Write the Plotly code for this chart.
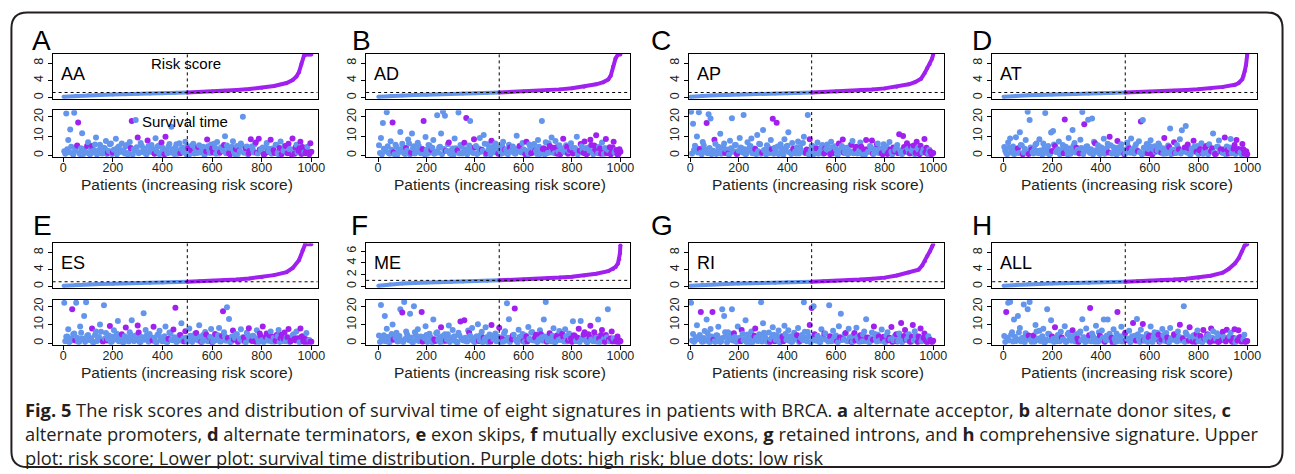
import plotly.graph_objects as go

FIG_W, FIG_H = 1295, 474
BLUE = "#6495ED"
PURPLE = "#A020F0"
FONT = "Liberation Sans, Arial, sans-serif"
CAP_FONT = "Open Sans, Noto Sans, sans-serif"

# ---------------- data ----------------
panel_letters = ["A", "B", "C", "D", "E", "F", "G", "H"]
panel_names = ["AA", "AD", "AP", "AT", "ES", "ME", "RI", "ALL"]
cutoff_rank = 500
x_tick_vals = [0, 200, 400, 600, 800, 1000]
risk_ticks_default = [0, 4, 8]
risk_ticks_ME = [0, 2, 4, 6]
surv_ticks = [0, 10, 20]
surv_rank = list(range(4, 1000, 8))    # patients of the first sample
surv2_rank = list(range(8, 1001, 8))   # patients of the second sample

risk_rank_AA = [1, 50, 100, 150, 200, 250, 300, 350, 400, 450, 500, 550, 600, 650, 700, 750, 800, 850, 900, 925, 940, 950, 960, 970, 980, 990, 1000]
risk_AA = [0.2, 0.42, 0.55, 0.64, 0.72, 0.8, 0.88, 0.96, 1.03, 1.11, 1.2, 1.3, 1.45, 1.6, 1.8, 2.0, 2.3, 2.7, 3.4, 4.1, 4.9, 5.9, 7.8, 9.7, 10.0, 10.0, 10.0]
risk_rank_AD = [1, 50, 100, 150, 200, 250, 300, 350, 400, 450, 500, 550, 600, 650, 700, 750, 800, 850, 900, 930, 950, 960, 970, 980, 990, 1000]
risk_AD = [0.2, 0.4, 0.52, 0.62, 0.7, 0.78, 0.86, 0.94, 1.02, 1.1, 1.2, 1.3, 1.42, 1.55, 1.72, 1.92, 2.2, 2.55, 3.1, 3.6, 4.2, 5.1, 7.2, 9.1, 10.0, 10.0]
risk_rank_AP = [1, 50, 100, 150, 200, 250, 300, 350, 400, 450, 500, 550, 600, 650, 700, 750, 800, 850, 900, 925, 950, 965, 975, 985, 995, 1000]
risk_AP = [0.2, 0.42, 0.54, 0.63, 0.71, 0.79, 0.87, 0.95, 1.03, 1.11, 1.2, 1.3, 1.42, 1.56, 1.72, 1.9, 2.15, 2.55, 3.1, 3.6, 4.4, 5.7, 6.8, 7.7, 9.0, 10.0]
risk_rank_AT = [1, 50, 100, 150, 200, 250, 300, 350, 400, 450, 500, 550, 600, 650, 700, 750, 800, 850, 900, 950, 965, 980, 985, 990, 995, 1000]
risk_AT = [0.2, 0.42, 0.54, 0.63, 0.71, 0.79, 0.87, 0.95, 1.03, 1.11, 1.2, 1.28, 1.38, 1.5, 1.62, 1.76, 1.93, 2.15, 2.5, 3.0, 3.4, 4.3, 5.0, 6.2, 7.6, 10.0]
risk_rank_ES = [1, 50, 100, 150, 200, 250, 300, 350, 400, 450, 500, 550, 600, 650, 700, 750, 800, 850, 900, 925, 950, 965, 975, 1000]
risk_ES = [0.2, 0.4, 0.52, 0.6, 0.68, 0.76, 0.83, 0.9, 0.97, 1.04, 1.12, 1.22, 1.35, 1.5, 1.68, 1.9, 2.2, 2.7, 3.4, 4.4, 6.2, 8.6, 10.0, 10.0]
risk_rank_ME = [1, 50, 100, 150, 200, 250, 300, 350, 400, 450, 500, 550, 600, 650, 700, 750, 800, 850, 900, 950, 970, 980, 990, 995, 998, 1000]
risk_ME = [0.1, 0.35, 0.48, 0.57, 0.65, 0.72, 0.79, 0.85, 0.91, 0.97, 1.03, 1.1, 1.18, 1.27, 1.37, 1.5, 1.65, 1.85, 2.15, 2.6, 2.95, 3.3, 3.9, 4.6, 5.6, 7.0]
risk_rank_RI = [1, 50, 100, 150, 200, 250, 300, 350, 400, 450, 500, 550, 600, 650, 700, 750, 800, 850, 900, 940, 955, 966, 975, 986, 995, 1000]
risk_RI = [0.2, 0.4, 0.52, 0.61, 0.69, 0.77, 0.84, 0.91, 0.98, 1.05, 1.13, 1.22, 1.34, 1.48, 1.65, 1.85, 2.1, 2.6, 3.3, 4.0, 5.0, 6.0, 7.2, 8.3, 9.5, 10.0]
risk_rank_ALL = [1, 50, 100, 150, 200, 250, 300, 350, 400, 450, 500, 550, 600, 650, 700, 750, 800, 850, 900, 925, 950, 965, 978, 990, 1000]
risk_ALL = [0.2, 0.4, 0.52, 0.61, 0.69, 0.77, 0.84, 0.91, 0.98, 1.05, 1.13, 1.22, 1.34, 1.48, 1.64, 1.84, 2.1, 2.55, 3.3, 4.2, 5.5, 6.7, 8.3, 9.8, 10.0]

# survival time (years); dead = 1 -> purple dot
surv_AA = [2.1, 21.8, 7.9, 13.4, 1.0, 22.2, 4.3, 17.1, 0.6, 11.5,
           3.2, 1.5, 6.8, 0.4, 4.9, 2.6, 9.2, 1.8, 5.5, 0.9,
           3.9, 7.4, 1.3, 5.8, 0.7, 2.9, 8.6, 4.1, 1.9, 6.2,
           2.4, 4.7, 0.5, 6.9, 17.8, 3.1, 18.3, 9.3, 1.6, 5.0,
           3.6, 0.9, 7.7, 2.2, 5.3, 1.4, 8.9, 4.4, 0.6, 6.6,
           3.0, 9.7, 1.1, 5.9, 14.8, 2.7, 4.0, 0.8, 6.3, 3.3,
           1.7, 7.1, 4.8, 0.5, 2.6, 6.0, 3.7, 1.2, 5.2, 2.0,
           4.5, 0.7, 8.2, 2.8, 5.6, 1.5, 3.9, 6.9, 0.9, 4.2,
           2.3, 9.9, 5.1, 1.0, 3.6, 7.3, 0.6, 4.9, 2.5, 6.1,
           20.1, 1.8, 4.6, 0.9, 8.4, 3.2, 5.7, 1.3, 8.6, 2.9,
           4.1, 0.7, 6.4, 2.1, 8.1, 3.5, 1.2, 5.3, 0.5, 7.2,
           2.7, 4.8, 1.4, 6.0, 3.1, 8.7, 0.8, 5.5, 2.3, 7.0,
           4.3, 1.6, 3.0, 0.9, 6.3]
dead_AA = "0000000100 0000100000 0010000000 0000100100 0010000001 0100000000 0000100000 0010010000 0001000010 0001100110 0100101000 1001011011 10111"
surv2_AA = [0.8, 3.1, 1.6, 4.4, 0.3, 2.5, 5.1, 1.2, 3.7, 0.6,
            2.0, 4.8, 0.9, 3.3, 1.5, 5.6, 0.4, 2.8, 4.0, 1.1,
            3.5, 0.7, 2.2, 6.1, 1.4, 3.0, 0.5, 4.6, 1.9, 2.6,
            0.9, 5.3, 1.3, 3.8, 0.4, 2.4, 4.2, 1.0, 6.4, 1.7,
            2.9, 0.6, 4.9, 1.8, 3.4, 0.8, 2.1, 5.0, 1.2, 3.9,
            0.5, 2.7, 4.5, 1.5, 3.2, 0.7, 5.7, 2.3, 1.0, 4.1,
            2.5, 0.6, 3.6, 1.9, 5.2, 0.9, 2.8, 4.3, 1.4, 3.1,
            0.4, 2.0, 4.7, 1.2, 3.5, 6.0, 0.8, 2.6, 1.6, 3.9,
            5.4, 1.1, 2.9, 0.5, 4.4, 1.8, 3.3, 0.7, 2.2, 5.0,
            1.3, 3.7, 0.6, 2.4, 4.6, 1.5, 6.7, 0.9, 3.0, 2.1,
            0.4, 4.2, 1.7, 3.4, 0.8, 2.6, 5.5, 1.2, 3.8, 0.6,
            2.3, 4.9, 1.0, 3.2, 0.5, 2.0, 4.0, 1.4, 3.6, 0.7,
            2.8, 1.1, 4.5, 0.6, 1.9]
dead2_AA = "0000001000 0100000000 0000100000 0001000000 0000010000 1000000010 0010000100 0100100010 1001001000 0101001010 1010010011 0110101011 11011"

surv_AD = [5.2, 9.0, 16.8, 3.1, 22.4, 1.2, 7.3, 17.0, 0.6, 4.4,
           2.5, 12.1, 6.0, 1.0, 3.8, 8.2, 0.5, 11.3, 4.7, 2.0,
           6.5, 1.6, 3.4, 17.9, 9.5, 0.8, 5.1, 2.7, 7.9, 1.3,
           20.8, 4.0, 11.4, 22.6, 20.6, 2.2, 6.7, 0.7, 3.5, 8.8,
           1.9, 22.3, 5.4, 0.9, 6.5, 19.4, 2.6, 17.8, 3.9, 8.4,
           4.8, 1.1, 9.0, 2.9, 10.6, 0.6, 5.7, 3.3, 7.6, 1.7,
           6.2, 2.4, 4.1, 0.8, 7.0, 3.0, 1.4, 5.5, 2.1, 4.6,
           0.9, 10.2, 3.7, 1.8, 6.4, 2.8, 7.1, 0.6, 4.3, 1.5,
           5.9, 2.3, 8.0, 0.7, 17.9, 3.6, 6.8, 1.2, 4.9, 9.3,
           2.7, 7.4, 0.8, 5.2, 3.1, 8.6, 1.6, 4.5, 2.2, 6.3,
           0.9, 3.8, 9.6, 1.4, 5.9, 2.6, 7.2, 0.6, 4.1, 8.1,
           2.0, 5.1, 10.4, 1.1, 3.5, 6.6, 0.8, 8.5, 2.9, 4.2,
           1.5, 7.1, 2.6, 0.5, 3.1]
dead_AD = "0000000100 0000100000 0001000100 0000001000 0000110001 0001000010 0000010000 0000001001 0000010010 1010010100 1000101101 0110100101 11011"
surv2_AD = [1.2, 0.5, 3.4, 2.1, 4.7, 0.8, 2.9, 1.6, 5.5, 0.4,
            3.0, 1.9, 4.2, 0.7, 2.5, 6.2, 1.3, 3.6, 0.9, 2.2,
            4.9, 1.0, 3.1, 0.5, 2.7, 5.3, 1.5, 3.9, 0.8, 2.0,
            1.4, 4.4, 0.6, 3.3, 2.3, 5.8, 1.1, 2.8, 0.4, 3.7,
            2.6, 0.9, 4.6, 1.7, 3.2, 0.6, 5.1, 2.0, 1.2, 4.0,
            0.7, 3.5, 1.8, 2.4, 6.0, 1.0, 3.0, 0.5, 4.3, 1.6,
            3.8, 0.8, 2.2, 5.0, 1.3, 2.9, 0.6, 4.1, 1.9, 3.4,
            0.9, 2.6, 4.8, 1.4, 3.1, 0.5, 2.1, 5.6, 1.1, 3.6,
            2.4, 0.7, 4.5, 1.8, 3.3, 0.4, 2.7, 6.3, 1.5, 3.9,
            1.0, 4.2, 2.0, 0.6, 3.5, 1.7, 5.2, 0.8, 2.8, 4.0,
            1.3, 3.0, 0.5, 2.3, 4.7, 1.2, 3.7, 0.9, 2.5, 5.4,
            0.6, 3.2, 1.6, 4.4, 0.8, 2.1, 3.8, 1.0, 2.9, 0.5,
            4.1, 1.4, 2.6, 0.7, 1.8]
dead2_AD = "0000000100 0000001000 0010000000 0000100000 1000000001 0000010000 0100000100 0010010010 1000101001 0101000110 1001010101 0110110101 10111"

surv_AP = [22.6, 16.4, 5.0, 9.8, 22.4, 1.3, 6.9, 3.2, 16.8, 21.4,
           19.1, 2.4, 8.1, 0.7, 4.5, 11.2, 1.8, 6.2, 3.0, 0.9,
           7.6, 19.3, 2.1, 5.4, 1.2, 9.0, 3.7, 20.9, 0.6, 6.8,
           4.1, 8.7, 1.5, 3.3, 10.5, 6.0, 0.8, 13.2, 2.6, 5.2,
           1.0, 7.9, 19.0, 3.9, 16.9, 0.7, 5.8, 2.2, 8.4, 4.6,
           12.0, 1.7, 6.4, 3.1, 0.9, 7.2, 4.3, 2.0, 9.7, 1.3,
           21.0, 8.3, 5.0, 0.6, 2.9, 6.7, 1.4, 4.0, 0.8, 3.5,
           5.6, 2.3, 7.0, 1.1, 4.7, 0.7, 6.1, 2.8, 8.2, 1.6,
           3.9, 0.9, 5.3, 7.5, 2.0, 4.4, 1.2, 6.6, 0.6, 3.0,
           8.0, 1.9, 4.9, 7.7, 0.8, 3.4, 6.2, 2.5, 1.0, 5.7,
           3.2, 0.7, 6.9, 1.8, 4.1, 2.7, 5.4, 11.0, 0.9, 10.1,
           2.2, 6.3, 1.3, 4.6, 3.6, 0.6, 7.1, 2.8, 5.0, 1.5,
           8.5, 3.9, 0.9, 2.0, 1.0]
dead_AP = "0000000010 0010000001 0000100000 0001000000 0010100000 0001000001 0100000001 0001001010 0000010001 1001000010 0100100101 0101001010 11011"
surv2_AP = [0.9, 2.7, 4.1, 1.4, 3.3, 0.5, 5.2, 2.0, 1.1, 3.8,
            0.6, 2.4, 6.0, 1.7, 3.0, 0.8, 4.5, 1.2, 2.9, 0.4,
            3.6, 1.9, 5.4, 0.7, 2.3, 4.0, 1.5, 3.2, 0.9, 2.6,
            4.8, 1.0, 3.5, 0.6, 2.1, 5.7, 1.3, 2.8, 0.5, 4.3,
            1.8, 3.1, 0.8, 2.5, 4.6, 1.1, 3.7, 0.4, 2.2, 5.0,
            1.6, 0.7, 3.4, 2.0, 4.2, 0.9, 2.7, 6.4, 1.2, 3.0,
            0.5, 2.4, 4.7, 1.5, 3.6, 0.8, 2.1, 5.3, 1.0, 3.3,
            2.6, 0.6, 4.0, 1.7, 3.1, 0.4, 2.8, 4.9, 1.3, 3.8,
            0.7, 2.2, 5.5, 1.1, 3.4, 0.9, 2.5, 4.4, 1.6, 0.5,
            3.2, 1.9, 4.1, 0.8, 2.7, 5.8, 1.2, 3.5, 0.6, 2.3,
            4.6, 1.4, 3.0, 0.5, 2.0, 3.9, 1.1, 2.6, 0.7, 4.3,
            1.8, 3.3, 0.9, 2.4, 5.1, 1.3, 3.7, 0.6, 2.1, 3.0,
            1.5, 0.8, 2.9, 0.5, 1.2]
dead2_AP = "0000100000 0000000100 0001000000 0000001000 0100000000 0010000001 0000100010 0101000010 0010100100 1001010010 0110101001 1010110110 11011"

surv_AT = [4.3, 1.2, 6.7, 8.8, 2.5, 0.7, 9.4, 3.6, 12.0, 5.1,
           1.5, 7.9, 22.6, 18.4, 3.0, 0.9, 5.6, 2.2, 8.3, 1.0,
           6.1, 22.0, 3.4, 0.6, 11.8, 12.6, 4.8, 2.0, 7.2, 1.4,
           5.3, 18.6, 2.7, 9.0, 0.8, 13.1, 6.4, 3.9, 1.7, 8.1,
           22.5, 16.2, 4.5, 18.5, 1.2, 19.2, 7.0, 2.6, 5.2, 0.7,
           3.8, 8.6, 1.9, 6.0, 9.6, 0.9, 4.2, 2.9, 7.5, 1.3,
           5.7, 2.1, 0.8, 6.6, 3.5, 8.8, 1.6, 4.4, 2.6, 7.3,
           17.6, 18.3, 1.1, 5.9, 3.2, 7.8, 0.6, 4.7, 2.3, 6.2,
           1.5, 3.7, 9.0, 0.9, 5.1, 14.0, 2.7, 6.8, 1.2, 4.0,
           8.4, 13.0, 2.2, 15.3, 5.6, 0.7, 3.4, 7.6, 1.8, 4.9,
           2.6, 6.3, 0.8, 3.9, 1.5, 5.8, 2.1, 11.4, 0.6, 4.5,
           7.7, 3.1, 1.2, 9.2, 4.6, 0.9, 8.5, 2.4, 5.4, 8.0,
           3.3, 1.4, 5.9, 0.8, 2.1]
dead_AT = "0000000100 0000100000 0000001000 0100000100 0100000000 0000100010 0000100000 1000001010 0010000100 0000100100 1001001010 0101010011 10111"
surv2_AT = [2.3, 0.6, 3.9, 1.5, 4.6, 0.9, 2.8, 1.2, 5.3, 0.5,
            3.4, 2.0, 0.7, 4.1, 1.6, 3.0, 6.1, 1.0, 2.5, 0.4,
            3.7, 1.3, 4.9, 0.8, 2.2, 5.6, 1.7, 3.2, 0.6, 2.7,
            1.1, 4.4, 0.5, 3.5, 2.1, 5.0, 1.4, 2.9, 0.9, 3.8,
            0.7, 2.4, 4.7, 1.8, 3.1, 0.5, 6.3, 2.0, 1.2, 4.2,
            2.6, 0.8, 3.6, 1.5, 5.2, 1.0, 2.3, 0.4, 4.0, 1.9,
            3.3, 0.6, 2.8, 4.5, 1.3, 3.0, 0.9, 5.7, 2.1, 1.6,
            0.5, 3.9, 2.4, 1.1, 4.8, 0.7, 3.2, 1.7, 2.6, 5.1,
            1.4, 0.8, 3.5, 2.0, 4.3, 0.6, 2.9, 1.2, 5.4, 3.1,
            0.9, 2.2, 4.0, 1.5, 3.7, 0.5, 2.5, 4.6, 1.8, 0.7,
            3.3, 1.0, 2.7, 4.9, 0.6, 2.0, 3.6, 1.3, 0.8, 4.4,
            2.3, 1.6, 3.0, 0.5, 2.8, 4.1, 1.1, 3.4, 0.7, 2.4,
            1.9, 0.6, 3.2, 1.0, 0.5]
dead2_AT = "0000000001 0010000000 0000100000 1000000010 0000001000 0001000000 0100000010 0001010000 1000100101 0010100010 1101001010 0110100101 10111"

surv_ES = [21.9, 3.5, 7.6, 1.1, 18.4, 5.2, 22.0, 0.8, 9.1, 2.6,
           14.8, 22.3, 4.4, 1.7, 8.0, 0.6, 6.3, 3.0, 10.2, 1.3,
           20.6, 5.5, 2.2, 9.3, 0.9, 7.0, 3.7, 12.1, 1.5, 4.8,
           0.7, 8.5, 2.9, 6.0, 12.4, 1.2, 4.1, 9.6, 0.6, 3.3,
           16.3, 7.2, 1.8, 5.0, 2.5, 8.9, 0.8, 4.6, 6.7, 1.4,
           3.1, 9.0, 0.6, 5.8, 2.0, 7.4, 19.3, 1.1, 4.3, 10.8,
           2.7, 6.5, 0.9, 8.0, 3.9, 1.6, 5.3, 2.3, 9.8, 0.7,
           4.5, 6.1, 1.3, 3.4, 7.7, 0.8, 5.0, 2.1, 8.3, 1.0,
           17.3, 3.6, 19.5, 13.2, 0.6, 6.9, 2.8, 4.9, 1.4, 7.5,
           3.2, 0.9, 5.7, 8.1, 2.4, 4.0, 1.1, 7.0, 0.7, 3.8,
           9.1, 2.0, 5.2, 1.3, 6.4, 3.5, 0.8, 4.4, 7.2, 2.6,
           1.2, 5.8, 3.0, 7.7, 0.9, 4.1, 2.3, 6.3, 1.6, 8.0,
           3.7, 0.6, 5.5, 1.4, 0.8]
dead_ES = "0000100000 0000100000 0001000001 0100000100 0000010000 0000011000 0100000001 0001001000 1000010010 0101001001 1010010101 0101101011 11011"
surv2_ES = [1.0, 3.6, 0.5, 2.4, 4.9, 1.5, 3.0, 0.8, 5.6, 2.1,
            0.6, 3.9, 1.8, 2.7, 0.4, 4.4, 1.2, 3.3, 6.2, 0.9,
            2.5, 1.4, 4.1, 0.7, 3.5, 2.0, 5.1, 1.1, 2.8, 0.5,
            3.8, 1.7, 0.9, 4.6, 2.3, 1.3, 3.1, 5.8, 0.6, 2.6,
            1.9, 4.2, 0.8, 3.4, 1.5, 2.9, 0.4, 4.8, 2.2, 1.0,
            3.7, 0.7, 2.4, 5.3, 1.6, 3.2, 0.5, 2.0, 4.5, 1.2,
            0.9, 3.0, 1.8, 4.0, 0.6, 2.7, 5.5, 1.4, 3.5, 0.8,
            2.2, 4.7, 1.1, 3.3, 0.5, 2.5, 1.7, 4.3, 0.9, 3.9,
            6.0, 1.3, 2.8, 0.6, 3.6, 1.9, 4.9, 0.7, 2.3, 1.5,
            3.1, 0.4, 4.4, 2.0, 1.2, 3.8, 0.8, 2.6, 5.2, 1.6,
            0.5, 3.4, 2.1, 4.1, 0.9, 2.9, 1.3, 3.7, 0.6, 4.6,
            2.4, 1.0, 3.2, 0.7, 2.0, 4.8, 1.5, 2.7, 0.5, 3.5,
            1.1, 2.3, 0.6, 1.7, 0.8]
dead2_ES = "0000010000 0000000001 0100000000 0000000100 0000100000 0010000010 1000001000 0100100001 0010010100 1000101010 0101001001 1010101101 11101"

surv_ME = [4.2, 20.7, 1.3, 14.8, 7.9, 0.7, 3.6, 10.1, 2.2, 5.7,
           1.0, 18.4, 16.6, 22.4, 6.4, 2.8, 16.0, 0.8, 20.0, 4.5,
           7.5, 1.9, 17.0, 3.3, 9.2, 0.6, 5.1, 2.4, 12.9, 1.2,
           6.0, 3.1, 8.7, 0.9, 4.8, 2.0, 9.6, 1.5, 7.1, 3.8,
           0.7, 5.6, 11.8, 2.5, 12.4, 1.1, 6.9, 4.0, 8.2, 0.8,
           3.4, 10.3, 1.6, 6.2, 2.9, 8.6, 0.6, 4.7, 9.9, 2.1,
           5.3, 1.3, 8.4, 3.0, 0.8, 6.5, 21.7, 13.0, 2.4, 4.1,
           18.9, 1.0, 7.3, 2.7, 5.0, 0.7, 3.6, 8.8, 1.8, 6.1,
           2.3, 4.6, 0.9, 7.0, 3.2, 12.8, 22.4, 1.5, 5.4, 2.0,
           8.1, 0.6, 4.3, 6.6, 1.7, 3.5, 7.6, 0.9, 5.2, 2.6,
           11.9, 3.9, 1.2, 7.8, 12.0, 2.4, 6.0, 0.8, 4.8, 9.5,
           1.4, 5.9, 3.0, 12.8, 0.7, 7.2, 2.2, 4.5, 18.4, 1.1,
           6.4, 2.7, 0.9, 3.6, 1.5]
dead_ME = "0000000010 0010000000 0010000001 0010000000 0010100000 0000100010 0010000001 1000001000 0100000010 0010010001 0101001011 0100010100 10111"
surv2_ME = [0.7, 2.6, 4.3, 1.1, 3.4, 0.5, 5.0, 1.8, 2.9, 0.9,
            3.9, 1.4, 0.6, 2.3, 4.7, 1.6, 3.1, 0.4, 5.9, 2.0,
            1.2, 3.6, 0.8, 2.7, 4.4, 1.0, 3.3, 0.5, 2.1, 5.4,
            1.7, 0.7, 3.8, 2.4, 1.3, 4.9, 0.6, 2.8, 3.5, 1.1,
            0.4, 4.1, 2.2, 1.5, 3.0, 0.9, 5.6, 1.9, 2.6, 0.6,
            3.7, 1.2, 4.5, 0.5, 2.3, 3.2, 1.6, 0.8, 4.0, 2.9,
            1.0, 3.5, 0.6, 2.5, 5.2, 1.4, 3.0, 0.7, 2.0, 4.6,
            1.8, 0.4, 3.3, 2.7, 1.1, 4.2, 0.9, 2.4, 5.7, 1.5,
            3.1, 0.6, 2.1, 4.8, 1.3, 3.6, 0.8, 2.6, 1.0, 4.0,
            0.5, 3.4, 1.7, 2.2, 5.1, 0.9, 3.8, 1.4, 2.8, 0.6,
            4.3, 1.2, 3.0, 0.7, 2.3, 4.6, 1.6, 0.5, 3.3, 2.0,
            1.1, 3.9, 0.8, 2.5, 4.4, 1.3, 0.6, 3.1, 1.8, 2.7,
            0.9, 2.2, 1.4, 0.5, 1.0]
dead2_ME = "0000000100 0000000000 0010000010 0000100000 0000001000 0100000100 0001000010 0000101000 1001001000 0100100101 1010010010 0101101011 10111"

surv_RI = [21.9, 5.0, 1.4, 9.8, 3.2, 16.9, 0.8, 6.6, 12.8, 2.5,
           7.7, 17.0, 1.1, 4.3, 8.9, 0.6, 18.4, 14.8, 3.6, 6.0,
           2.0, 18.4, 5.4, 0.9, 9.1, 3.0, 7.2, 1.6, 12.4, 4.7,
           0.7, 6.3, 2.8, 8.0, 1.3, 4.9, 22.2, 10.8, 3.5, 0.8,
           5.8, 2.2, 8.6, 1.0, 4.1, 6.9, 0.6, 3.3, 9.4, 1.9,
           7.0, 3.8, 0.8, 5.6, 2.4, 8.2, 1.2, 4.5, 22.2, 2.9,
           6.1, 9.9, 19.1, 20.0, 1.5, 4.0, 0.7, 7.5, 3.1, 5.2,
           2.0, 20.6, 1.0, 6.8, 3.7, 0.9, 9.2, 16.0, 2.6, 5.0,
           1.3, 7.9, 3.2, 0.6, 5.5, 8.4, 2.1, 4.3, 1.1, 6.3,
           13.0, 3.0, 0.8, 5.8, 9.1, 2.4, 4.6, 1.4, 7.4, 3.5,
           0.7, 6.0, 2.9, 8.8, 1.6, 4.2, 0.9, 5.3, 11.0, 3.1,
           7.1, 2.0, 4.9, 0.8, 9.9, 6.5, 1.5, 3.6, 8.0, 2.7,
           5.2, 0.9, 3.8, 1.7, 0.6]
dead_RI = "0000010000 0100000000 0010001000 0001000000 0001000100 0000001000 0110000000 0000010010 0000100100 0100100001 0011001010 1001100110 11011"
surv2_RI = [1.5, 0.6, 3.2, 2.2, 4.5, 0.9, 2.8, 1.3, 5.4, 0.5,
            3.6, 1.8, 0.7, 4.2, 2.5, 1.1, 3.0, 6.0, 0.4, 2.0,
            4.8, 1.4, 3.4, 0.8, 2.6, 1.0, 5.1, 2.3, 0.6, 3.8,
            1.7, 0.5, 4.0, 2.9, 1.2, 3.5, 0.9, 5.7, 2.1, 1.5,
            0.7, 3.1, 4.6, 1.8, 2.4, 0.5, 3.9, 1.1, 5.0, 2.7,
            1.3, 0.8, 3.3, 2.0, 4.3, 0.6, 2.8, 1.6, 6.2, 1.0,
            3.6, 0.4, 2.5, 4.9, 1.4, 3.0, 0.7, 2.2, 5.3, 1.9,
            0.9, 3.7, 1.2, 2.6, 4.1, 0.5, 3.2, 1.7, 2.0, 5.5,
            1.0, 2.9, 0.6, 4.4, 1.5, 3.4, 0.8, 2.3, 4.7, 1.2,
            3.1, 0.5, 2.7, 1.8, 5.0, 0.9, 3.6, 1.3, 2.4, 0.6,
            4.0, 1.6, 2.1, 0.7, 3.3, 4.8, 1.1, 2.6, 0.5, 3.9,
            1.9, 2.8, 0.8, 3.5, 1.4, 4.2, 0.6, 2.3, 1.0, 3.0,
            1.7, 0.5, 2.4, 0.9, 1.3]
dead2_RI = "0000000000 0100000000 0000010000 0010000000 1000000100 0000100000 0001000010 0100001001 0010100100 1001001010 0101010001 1011001101 11011"

surv_ALL = [3.9, 16.9, 21.9, 22.4, 6.0, 12.8, 1.2, 14.8, 8.3, 2.7,
            21.0, 5.4, 18.4, 22.4, 0.8, 4.1, 9.9, 1.9, 6.7, 3.0,
            7.8, 0.6, 18.4, 5.0, 12.4, 2.3, 8.6, 1.1, 4.4, 6.2,
            2.0, 9.2, 0.9, 5.7, 3.4, 7.0, 1.5, 4.8, 0.7, 6.4,
            13.0, 3.1, 8.0, 1.3, 19.1, 5.3, 2.6, 9.5, 0.8, 4.2,
            6.9, 12.8, 1.7, 12.8, 5.1, 2.9, 7.6, 0.6, 17.0, 3.7,
            8.9, 1.2, 5.6, 2.4, 6.8, 0.9, 10.9, 4.0, 13.2, 2.1,
            7.3, 10.4, 1.4, 5.0, 3.3, 9.1, 0.7, 6.0, 2.5, 4.6,
            1.0, 7.7, 3.6, 5.5, 0.8, 8.2, 2.3, 4.9, 1.6, 6.3,
            10.0, 3.0, 20.0, 5.8, 1.1, 8.6, 2.7, 4.3, 0.6, 6.9,
            3.5, 1.3, 7.1, 2.4, 4.8, 0.9, 8.0, 6.5, 2.0, 5.4,
            0.8, 4.0, 6.2, 1.7, 7.3, 3.1, 5.6, 0.7, 7.6, 2.6,
            7.0, 3.3, 1.1, 4.6, 0.9]
dead_ALL = "0100000000 0000010000 0000001000 0000010010 0000100001 0000010010 0010001000 0100100001 0000100100 1000010010 0010101010 1010110110 11101"
surv2_ALL = [0.6, 2.9, 1.4, 4.6, 0.9, 3.5, 2.1, 5.8, 1.1, 3.0,
             0.5, 2.4, 4.1, 1.7, 3.3, 0.8, 6.3, 2.6, 1.2, 3.8,
             0.4, 2.0, 5.1, 1.5, 3.6, 0.7, 2.8, 4.4, 1.0, 3.1,
             1.8, 0.6, 4.8, 2.3, 1.3, 3.9, 0.9, 2.5, 5.5, 1.6,
             3.2, 0.5, 2.7, 4.3, 1.1, 3.7, 0.8, 2.2, 6.0, 1.4,
             2.9, 0.6, 4.0, 1.9, 3.4, 0.4, 2.4, 5.2, 1.2, 3.0,
             0.9, 4.6, 1.7, 2.6, 0.5, 3.8, 2.1, 1.3, 4.9, 0.7,
             3.3, 1.5, 2.8, 0.6, 4.2, 1.0, 3.6, 2.3, 5.6, 0.8,
             2.0, 4.4, 1.2, 3.1, 0.5, 2.7, 1.8, 4.0, 0.9, 3.5,
             1.4, 2.5, 0.6, 4.7, 1.6, 3.2, 0.8, 2.2, 5.0, 1.1,
             3.9, 0.5, 2.6, 1.9, 4.3, 0.7, 3.0, 1.3, 2.4, 0.6,
             4.5, 1.7, 3.4, 0.9, 2.1, 3.7, 1.0, 2.8, 0.5, 1.5,
             3.1, 0.8, 2.0, 0.6, 1.2]
dead2_ALL = "0000000000 0010000000 0000100001 0000000100 0001000000 0100010000 0010000100 0100100001 1001000100 0100101010 1010010101 0101101101 11011"

caption_lines = [
    "<b>Fig. 5</b> The risk scores and distribution of survival time of eight signatures in patients with BRCA. <b>a</b> alternate acceptor, <b>b</b> alternate donor sites, <b>c</b>",
    "alternate promoters, <b>d</b> alternate terminators, <b>e</b> exon skips, <b>f</b> mutually exclusive exons, <b>g</b> retained introns, and <b>h</b> comprehensive signature. Upper",
    "plot: risk score; Lower plot: survival time distribution. Purple dots: high risk; blue dots: low risk",
]

risk_ranks = [risk_rank_AA, risk_rank_AD, risk_rank_AP, risk_rank_AT, risk_rank_ES, risk_rank_ME, risk_rank_RI, risk_rank_ALL]
risk_vals = [risk_AA, risk_AD, risk_AP, risk_AT, risk_ES, risk_ME, risk_RI, risk_ALL]
surv_vals = [surv_AA, surv_AD, surv_AP, surv_AT, surv_ES, surv_ME, surv_RI, surv_ALL]
dead_vals = [dead_AA, dead_AD, dead_AP, dead_AT, dead_ES, dead_ME, dead_RI, dead_ALL]
surv2_vals = [surv2_AA, surv2_AD, surv2_AP, surv2_AT, surv2_ES, surv2_ME, surv2_RI, surv2_ALL]
dead2_vals = [dead2_AA, dead2_AD, dead2_AP, dead2_AT, dead2_ES, dead2_ME, dead2_RI, dead2_ALL]


def flags(s):
    return [int(ch) for ch in s if ch in "01"]


# ---------------- layout (pixels) ----------------
col_box = [(51, 318), (367, 633), (692, 949), (998, 1265)]
col_xrange = [(-43, 1025), (-49, 1040), (-6, 1043), (-45, 1041)]
row_top = [(51, 97), (242, 287)]
row_bot = [(108, 155), (299, 344)]
letter_pos = [(40, 38), (362, 38), (664, 38), (988, 38), (41, 224), (360, 224), (665, 224), (988, 224)]


def fx(px):
    return px / FIG_W


def fy(py):
    return 1 - py / FIG_H


def sfx(n):
    return "" if n == 1 else str(n)


fig = go.Figure()
annotations = []
shapes = []
layout_axes = {}
TICK_FONT = dict(family=FONT, size=12.5, color="#231f20")

for p in range(8):
    r, c = divmod(p, 4)
    x0, x1 = col_box[c]
    t0, t1 = row_top[r]
    b0, b1 = row_bot[r]
    na = sfx(2 * p + 1)
    nb = sfx(2 * p + 2)
    name = panel_names[p]
    ticks = risk_ticks_ME if name == "ME" else risk_ticks_default
    yr_top = [-0.3, 7.3] if name == "ME" else [-0.4, 10.2]

    common_x = dict(range=list(col_xrange[c]), domain=[fx(x0), fx(x1)], showgrid=False, zeroline=False,
                    showline=True, linecolor="black", linewidth=1, mirror=True)
    common_y = dict(showgrid=False, zeroline=False, showline=True, linecolor="black", linewidth=1, mirror=True,
                    ticks="outside", ticklen=4, tickcolor="black", tickangle=-90, tickfont=TICK_FONT)
    layout_axes[f"xaxis{na}"] = dict(common_x, anchor=f"y{na}", showticklabels=False, ticks="")
    layout_axes[f"yaxis{na}"] = dict(common_y, anchor=f"x{na}", domain=[fy(t1), fy(t0)], range=yr_top,
                                     tickvals=ticks, ticktext=[str(v) for v in ticks])
    layout_axes[f"xaxis{nb}"] = dict(common_x, anchor=f"y{nb}", ticks="outside", ticklen=4, tickcolor="black",
                                     tickvals=x_tick_vals, ticktext=[str(v) for v in x_tick_vals],
                                     tickfont=TICK_FONT, ticklabelstandoff=-5)
    layout_axes[f"yaxis{nb}"] = dict(common_y, anchor=f"x{nb}", domain=[fy(b1), fy(b0)], range=[-0.9, 23.4],
                                     tickvals=surv_ticks, ticktext=[str(v) for v in surv_ticks])

    xs = risk_ranks[p]
    ys = risk_vals[p]
    lo_x = [x for x in xs if x <= cutoff_rank]
    lo_y = [y for x, y in zip(xs, ys) if x <= cutoff_rank]
    hi_x = [x for x in xs if x >= cutoff_rank]
    hi_y = [y for x, y in zip(xs, ys) if x >= cutoff_rank]
    cut_val = [y for x, y in zip(xs, ys) if x == cutoff_rank][0]
    fig.add_trace(go.Scatter(x=lo_x, y=lo_y, mode="lines+markers", line=dict(color=BLUE, width=4),
                             marker=dict(color=BLUE, size=4), xaxis=f"x{na}", yaxis=f"y{na}",
                             showlegend=False, hoverinfo="skip"))
    fig.add_trace(go.Scatter(x=hi_x, y=hi_y, mode="lines+markers", line=dict(color=PURPLE, width=4),
                             marker=dict(color=PURPLE, size=4), xaxis=f"x{na}", yaxis=f"y{na}",
                             showlegend=False, hoverinfo="skip"))

    pts = list(zip(surv_rank, surv_vals[p], flags(dead_vals[p])))
    pts += list(zip(surv2_rank, surv2_vals[p], flags(dead2_vals[p])))
    pts.sort(key=lambda t: t[0])
    fig.add_trace(go.Scatter(x=[t[0] for t in pts], y=[t[1] for t in pts], mode="markers",
                             marker=dict(color=[PURPLE if t[2] else BLUE for t in pts], size=6, line=dict(width=0)),
                             xaxis=f"x{nb}", yaxis=f"y{nb}", showlegend=False, hoverinfo="skip"))

    dot = dict(color="black", width=1, dash="dot")
    shapes.append(dict(type="line", xref=f"x{na}", yref=f"y{na} domain", x0=cutoff_rank, x1=cutoff_rank,
                       y0=0, y1=1, line=dot, layer="above"))
    shapes.append(dict(type="line", xref=f"x{nb}", yref=f"y{nb} domain", x0=cutoff_rank, x1=cutoff_rank,
                       y0=0, y1=1, line=dot, layer="above"))
    shapes.append(dict(type="line", xref=f"x{na} domain", yref=f"y{na}", x0=0, x1=1, y0=cut_val, y1=cut_val,
                       line=dot, layer="above"))

    lx, ly = letter_pos[p]
    annotations.append(dict(text=panel_letters[p], x=fx(lx), y=fy(ly), xref="paper", yref="paper", xanchor="center",
                            yanchor="middle", showarrow=False, font=dict(family=FONT, size=28, color="black")))
    annotations.append(dict(text=name, x=fx(x0 + 6), y=fy(t0 + 20), xref="paper", yref="paper", xanchor="left",
                            yanchor="middle", showarrow=False, font=dict(family=FONT, size=18, color="black")))
    annotations.append(dict(text="Patients (increasing risk score)", x=fx((x0 + x1) / 2 + 2), y=fy(b1 + 28),
                            xref="paper", yref="paper", xanchor="center", yanchor="middle", showarrow=False,
                            font=dict(family=FONT, size=15.5, color="#231f20")))

annotations.append(dict(text="Risk score", x=fx(185), y=fy(61), xref="paper", yref="paper", xanchor="center",
                        yanchor="middle", showarrow=False, font=dict(family=FONT, size=15, color="black")))
annotations.append(dict(text="Survival time", x=fx(184), y=fy(119), xref="paper", yref="paper", xanchor="center",
                        yanchor="middle", showarrow=False, font=dict(family=FONT, size=15, color="black")))

cap_y = [409.5, 433.5, 457.5]
for line, yy in zip(caption_lines, cap_y):
    annotations.append(dict(text=line, x=fx(21), y=fy(yy), xref="paper", yref="paper", xanchor="left",
                            yanchor="middle", showarrow=False, font=dict(family=CAP_FONT, size=18.3, color="#231f20")))

# rounded frame
L, T, R, B, rad = 9.5, 9.5, 1290.5, 467, 16
path = (f"M {fx(L + rad)},{fy(T)} L {fx(R - rad)},{fy(T)} Q {fx(R)},{fy(T)} {fx(R)},{fy(T + rad)} "
        f"L {fx(R)},{fy(B - rad)} Q {fx(R)},{fy(B)} {fx(R - rad)},{fy(B)} "
        f"L {fx(L + rad)},{fy(B)} Q {fx(L)},{fy(B)} {fx(L)},{fy(B - rad)} "
        f"L {fx(L)},{fy(T + rad)} Q {fx(L)},{fy(T)} {fx(L + rad)},{fy(T)} Z")
shapes.append(dict(type="path", xref="paper", yref="paper", path=path, line=dict(color="#231f20", width=2)))

fig.update_layout(width=FIG_W, height=FIG_H, margin=dict(l=0, r=0, t=0, b=0), paper_bgcolor="white",
                  plot_bgcolor="white", showlegend=False, annotations=annotations, shapes=shapes,
                  font=dict(family=FONT), **layout_axes)
fig.write_html("out.html", config={"displayModeBar": False},
               post_script="document.body.style.margin='0px';document.body.style.overflow='hidden';")
